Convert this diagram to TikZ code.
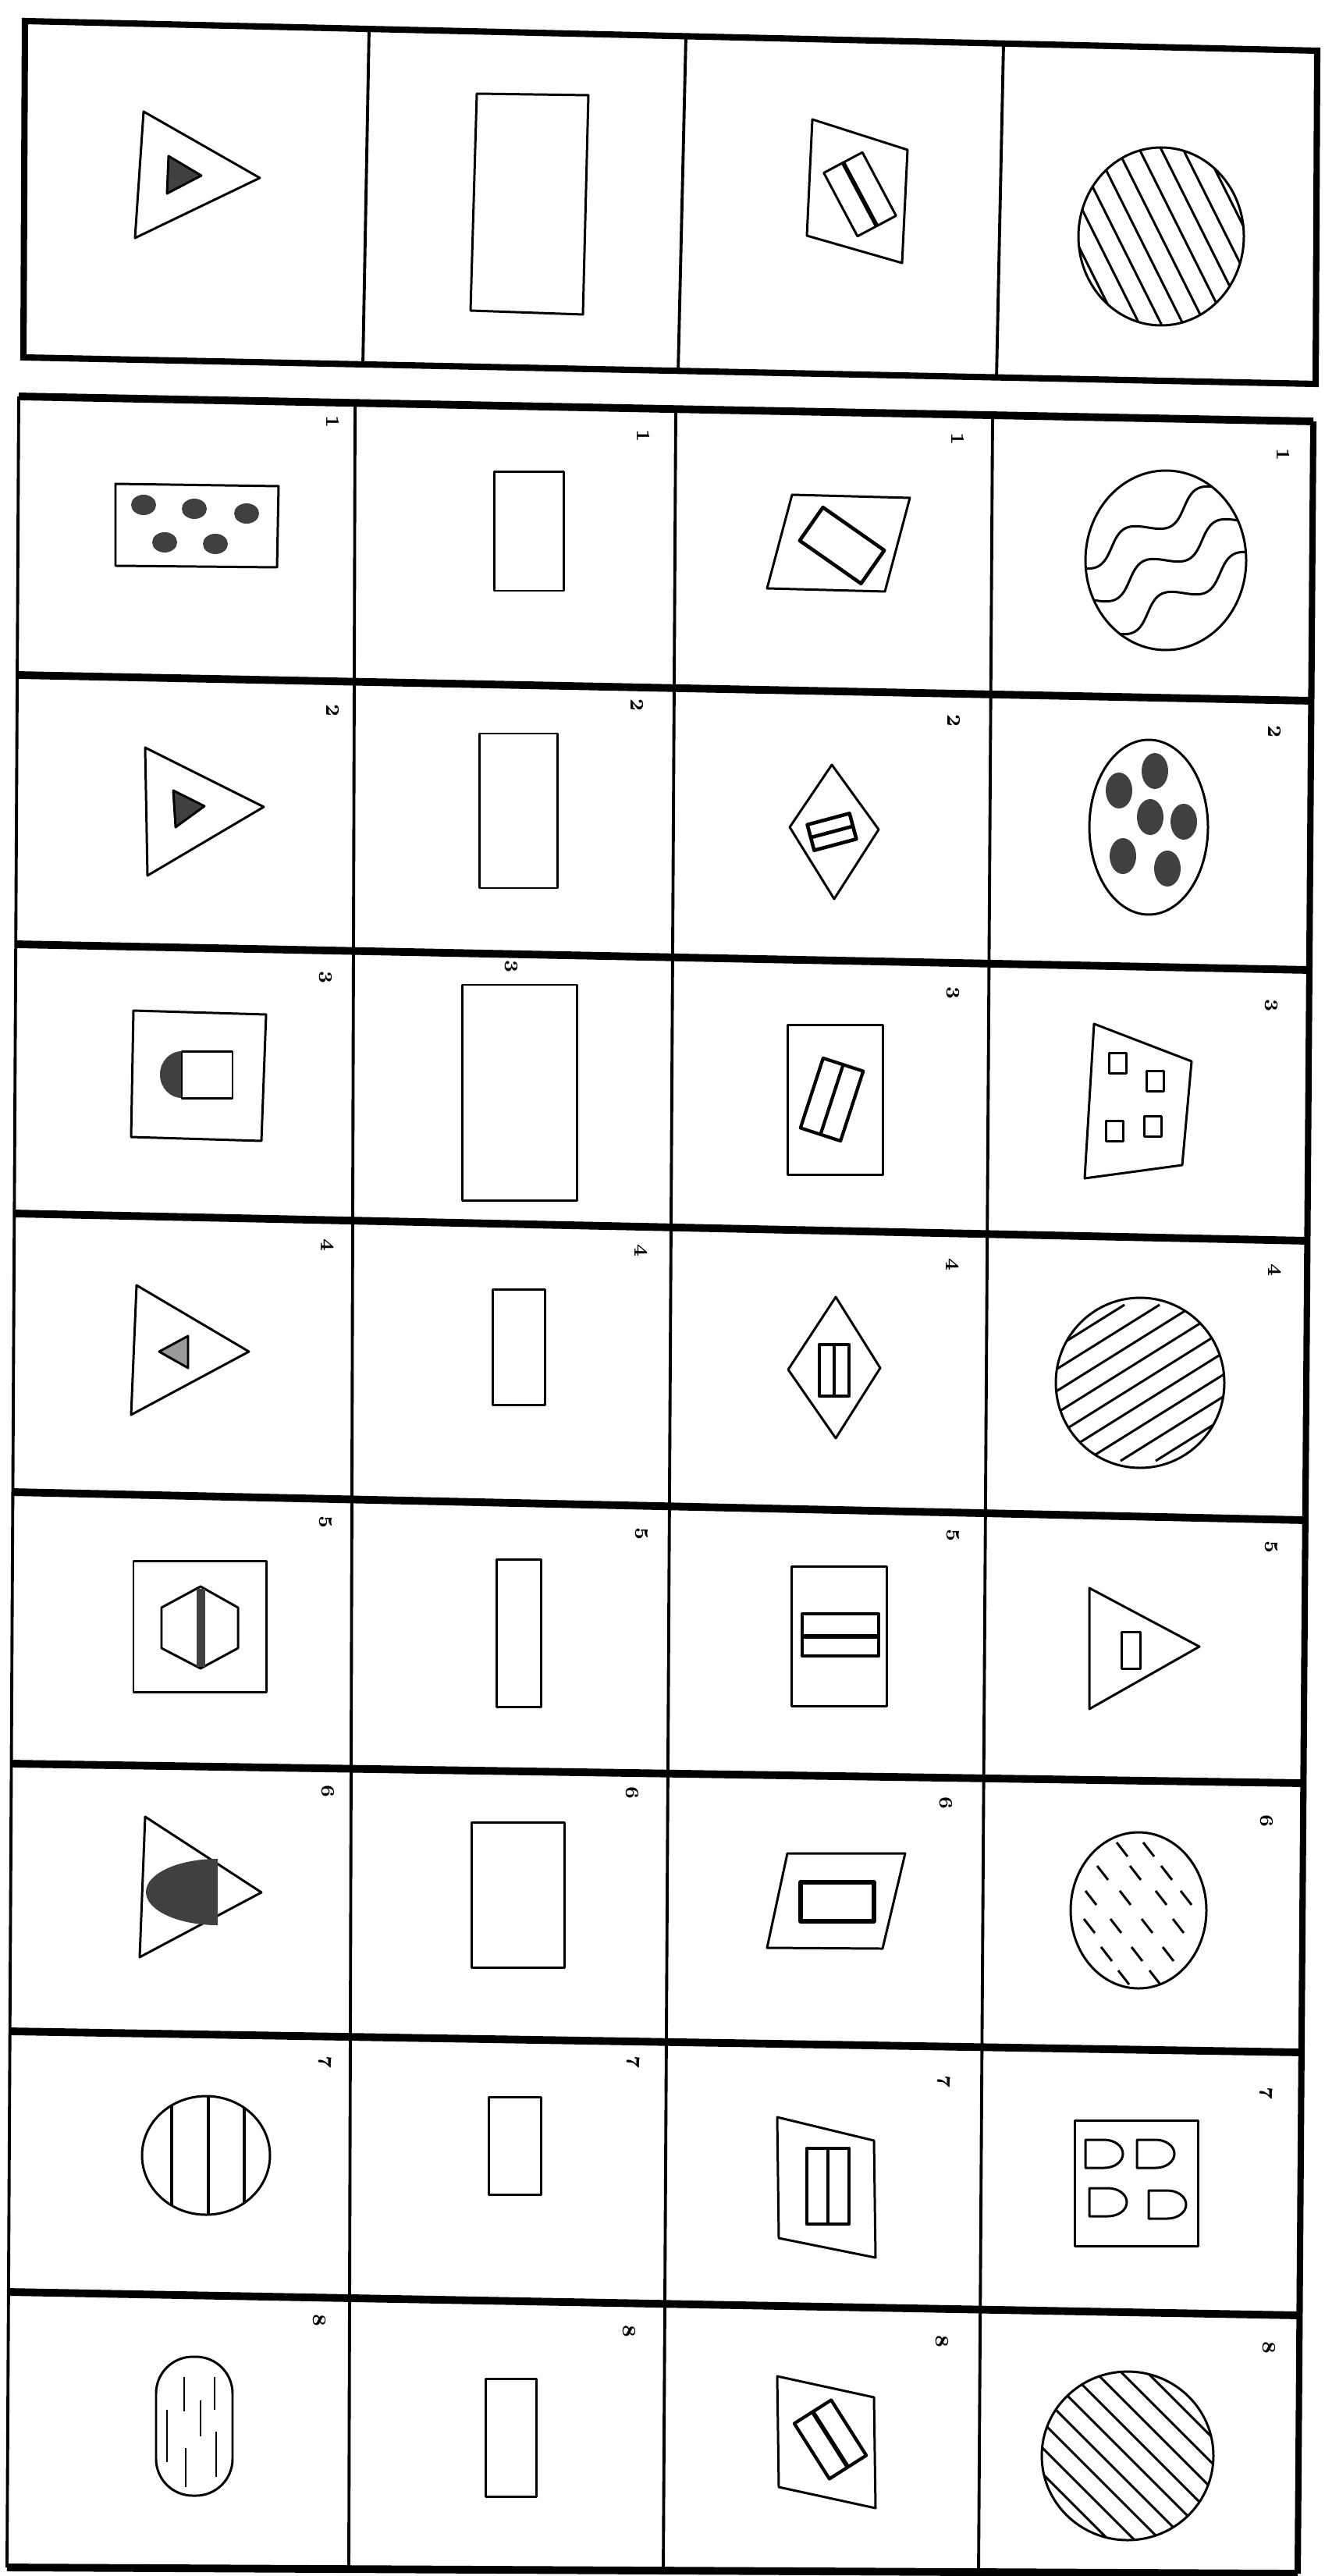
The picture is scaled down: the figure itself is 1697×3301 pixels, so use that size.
\documentclass[tikz,border=0pt]{standalone}
\usepackage{tikz}
\tikzset{
  rowline/.style  = {line width=2.8pt},
  colline/.style  = {line width=1.1pt},
  edgeline/.style = {line width=2.3pt},
  fig/.style      = {line width=0.85pt,line join=round},
  speck/.style    = {fill=black!75},
  numlbl/.style   = {font=\scriptsize\bfseries,rotate=-90,inner sep=0pt}
}
\newcommand{\hatchoval}[7]{%
  \begin{scope}
    \clip (#1,#2) ellipse [x radius=#3,y radius=#4];
    \foreach \k in {-10,...,10}
      \draw[fig] ({#1+\k*#7-(#5)},{#2-(#6)}) -- ({#1+\k*#7+(#5)},{#2+(#6)});
  \end{scope}
  \draw[fig] (#1,#2) ellipse [x radius=#3,y radius=#4];
}
\newcommand{\dshape}[2]{%
  \draw[fig] ({#1-24},{#2-18}) -- (#1,{#2-18})
    arc[start angle=-90,end angle=90,x radius=24,y radius=18]
    -- ({#1-24},{#2+18}) -- cycle;
}
\newcommand{\blob}[4]{\fill[speck] (#1,#2) ellipse [x radius=#3,y radius=#4];}

\begin{document}
\begin{tikzpicture}[x=0.01cm,y=-0.01cm]
  \useasboundingbox (0,0) rectangle (1697,3301);

  % answer strip
  \draw[edgeline] (32,27) -- (1688,65) -- (1686,492) -- (30,458) -- cycle;
  \foreach \xt/\yt/\xb/\yb in {473/37/465/468, 879/46/869/477, 1286/56/1277/485}
    \draw[colline] (\xt,\yt) -- (\xb,\yb);
  \draw[fig] (184,143) -- (333,228) -- (173,305) -- cycle;
  \filldraw[fig,speck] (216,200) -- (258,225) -- (214,248) -- cycle;
  \draw[fig] (611,120) -- (754,122) -- (747,403) -- (603,398) -- cycle;
  \draw[fig] (1041,153) -- (1163,192) -- (1156,337) -- (1034,302) -- cycle;
  \begin{scope}[rotate around={-62:(1102,249)}]
    \draw[fig] (1056,221) rectangle (1148,277);
    \draw[fig,line width=1.6pt] (1056,249) -- (1148,249);
  \end{scope}
  \hatchoval{1488}{303}{106}{114}{70}{140}{28}

  % grid of choices
  \foreach \xl/\yl/\xr/\yr in {24/508/1683/540, 22/865/1680/898, 20/1210/1678/1243,
      18/1555/1675/1590, 16/1912/1673/1948, 15/2260/1670/2285, 13/2603/1668/2630,
      11/2937/1665/2967, 9/3290/1663/3298}
    \draw[rowline] (\xl,\yl) -- (\xr,\yr);
  \draw[colline] (24,508) -- (9,3290);
  \draw[edgeline] (1683,540) -- (1663,3298);
  \foreach \xt/\yt/\xb/\yb in {455/516/447/3294, 866/524/850/3296, 1272/532/1254/3298}
    \draw[colline] (\xt,\yt) -- (\xb,\yb);

  \foreach \lx/\ly/\d [count=\i] in {427/540/1, 825/558/1, 1228/562/1, 1645/582/1,
      427/910/2, 817/903/2, 1223/923/2, 1634/937/2,
      417/1252/3, 655/1238/3, 1221/1272/3, 1629/1288/3,
      420/1595/4, 822/1602/4, 1221/1620/4, 1634/1627/4,
      417/1950/5, 822/1965/5, 1221/1967/5, 1629/1982/5,
      420/2295/6, 810/2297/6, 1212/2310/6, 1623/2333/6,
      417/2642/7, 812/2642/7, 1210/2667/7, 1623/2682/7,
      409/2973/8, 806/2987/8, 1207/3000/8, 1626/3008/8}
    \node[numlbl] (num\i) at (\lx,\ly) {\d};

  % row 1
  \draw[fig] (148,620) -- (357,623) -- (355,727) -- (148,725) -- cycle;
  \foreach \bx/\by in {184/647, 249/652, 316/658, 211/695, 276/697}
    {\blob{\bx}{\by}{16}{13}}
  \draw[fig] (633,605) rectangle (722,757);
  \draw[fig] (1015,634) -- (1166,638) -- (1134,758) -- (983,754) -- cycle;
  \begin{scope}[rotate around={-35:(1079,699)}]
    \draw[fig,line width=1.3pt] (1031,673) rectangle (1127,725);
  \end{scope}
  \begin{scope}
    \clip (1494,718) ellipse [x radius=103,y radius=115];
    \foreach \k in {-1,0,1}
      \draw[fig] plot[domain=-150:150,samples=80,smooth,variable=\t]
        ({1494+0.876*\t+0.482*(\k*48+13*sin(3.4*\t))},
         {718-0.482*\t+0.876*(\k*48+13*sin(3.4*\t))});
  \end{scope}
  \draw[fig] (1494,718) ellipse [x radius=103,y radius=115];

  % row 2
  \draw[fig] (186,958) -- (338,1034) -- (189,1122) -- cycle;
  \filldraw[fig,speck] (222,1013) -- (262,1033) -- (225,1060) -- cycle;
  \draw[fig] (614,940) rectangle (714,1138);
  \draw[fig] (1066,980) -- (1126,1063) -- (1069,1152) -- (1012,1060) -- cycle;
  \begin{scope}[rotate around={15:(1066,1066)}]
    \draw[fig,line width=1.3pt] (1038,1049) rectangle (1094,1083);
    \draw[fig,line width=1.3pt] (1038,1066) -- (1094,1066);
  \end{scope}
  \draw[fig] (1472,1060) ellipse [x radius=76,y radius=112];
  \foreach \bx/\by in {1480/988, 1434/1013, 1474/1047, 1517/1053, 1439/1097, 1496/1113}
    {\blob{\bx}{\by}{17}{23}}

  % row 3
  \draw[fig] (171,1295) -- (341,1300) -- (335,1462) -- (168,1457) -- cycle;
  \fill[speck] (233,1347) arc[start angle=270,end angle=90,x radius=28,y radius=30] -- cycle;
  \draw[fig] (233,1347) rectangle (298,1407);
  \draw[fig] (592,1262) rectangle (739,1538);
  \draw[fig] (1009,1313) rectangle (1131,1505);
  \begin{scope}[rotate around={-18:(1066,1409)}]
    \draw[fig,line width=1.2pt] (1039,1362) rectangle (1093,1456);
    \draw[fig,line width=1.2pt] (1066,1362) -- (1066,1456);
  \end{scope}
  \draw[fig] (1402,1312) -- (1527,1360) -- (1515,1493) -- (1390,1510) -- cycle;
  \foreach \sx/\sy in {1432/1362, 1480/1385, 1428/1449, 1477/1443}
    \draw[fig] ({\sx-11},{\sy-13}) rectangle ({\sx+11},{\sy+13});

  % row 4
  \draw[fig] (175,1647) -- (319,1732) -- (168,1813) -- cycle;
  \filldraw[fig,fill=black!40] (241,1712) -- (241,1753) -- (204,1732) -- cycle;
  \draw[fig] (631,1652) rectangle (698,1800);
  \draw[fig] (1071,1662) -- (1128,1753) -- (1071,1843) -- (1010,1755) -- cycle;
  \draw[fig,line width=1.2pt] (1050,1723) rectangle (1088,1789);
  \draw[fig,line width=1.2pt] (1069,1723) -- (1069,1789);
  \hatchoval{1461}{1772}{108}{109}{160}{-100}{45}

  % row 5
  \draw[fig] (171,2000) rectangle (341,2168);
  \draw[fig] (257,2033) -- (305,2060) -- (305,2112) -- (257,2138) -- (207,2112) -- (207,2060) -- cycle;
  \fill[speck] (252,2036) rectangle (263,2136);
  \draw[fig] (636,1998) rectangle (693,2187);
  \draw[fig] (1014,2007) rectangle (1136,2186);
  \draw[fig,line width=1.3pt] (1028,2068) rectangle (1126,2122);
  \draw[fig,line width=1.6pt] (1028,2097) -- (1126,2097);
  \draw[fig] (1396,2035) -- (1537,2110) -- (1396,2190) -- cycle;
  \draw[fig] (1437,2091) rectangle (1461,2138);

  % row 6
  \draw[fig] (186,2328) -- (335,2425) -- (179,2508) -- cycle;
  \fill[speck] (279,2382) -- (279,2467) arc[start angle=90,end angle=270,x radius=92,y radius=42.5] -- cycle;
  \draw[fig] (604,2335) rectangle (723,2521);
  \draw[fig] (1009,2375) -- (1160,2375) -- (1131,2497) -- (983,2496) -- cycle;
  \draw[fig,line width=1.5pt] (1026,2412) rectangle (1120,2462);
  \draw[fig] (1459,2448) ellipse [x radius=87,y radius=100];
  \foreach \yy/\xs in {2370/{1438,1472}, 2400/{1413,1455,1495}, 2432/{1398,1442,1488,1520},
      2468/{1396,1430,1470,1510}, 2504/{1418,1457,1497}, 2534/{1440,1480}}
    \foreach \xx in \xs
      \draw[fig] ({\xx-7},{\yy-9}) -- ({\xx+7},{\yy+9});

  % row 7
  \begin{scope}
    \clip (264,2762) ellipse [x radius=82,y radius=76];
    \foreach \vx in {220,267,313}
      \draw[fig,line width=1.4pt] (\vx,2680) -- (\vx,2845);
  \end{scope}
  \draw[fig] (264,2762) ellipse [x radius=82,y radius=76];
  \draw[fig] (626,2687) rectangle (693,2812);
  \draw[fig] (996,2713) -- (1120,2743) -- (1122,2893) -- (998,2868) -- cycle;
  \draw[fig,line width=1.2pt] (1034,2753) rectangle (1088,2850);
  \draw[fig,line width=1.2pt] (1061,2753) -- (1061,2850);
  \draw[fig] (1377,2717) rectangle (1535,2878);
  \dshape{1415}{2760}
  \dshape{1481}{2760}
  \dshape{1420}{2822}
  \dshape{1496}{2825}

  % row 8
  \draw[fig,rounded corners=0.47cm] (200,3020) rectangle (298,3198);
  \foreach \sx/\ya/\yb in {236/3046/3090, 275/3046/3088, 257/3076/3122,
      214/3088/3155, 238/3137/3187, 277/3116/3174}
    \draw[fig] (\sx,\ya) -- (\sx,\yb);
  \draw[fig] (622,3048) rectangle (687,3199);
  \draw[fig] (996,3045) -- (1120,3072) -- (1122,3214) -- (998,3187) -- cycle;
  \begin{scope}[rotate around={-57.6:(1064,3126)}]
    \draw[fig,line width=1.2pt] (1022,3098) rectangle (1106,3154);
    \draw[fig,line width=1.6pt] (1022,3126) -- (1106,3126);
  \end{scope}
  \hatchoval{1445}{3147}{110}{108}{130}{130}{33}
\end{tikzpicture}
\end{document}
